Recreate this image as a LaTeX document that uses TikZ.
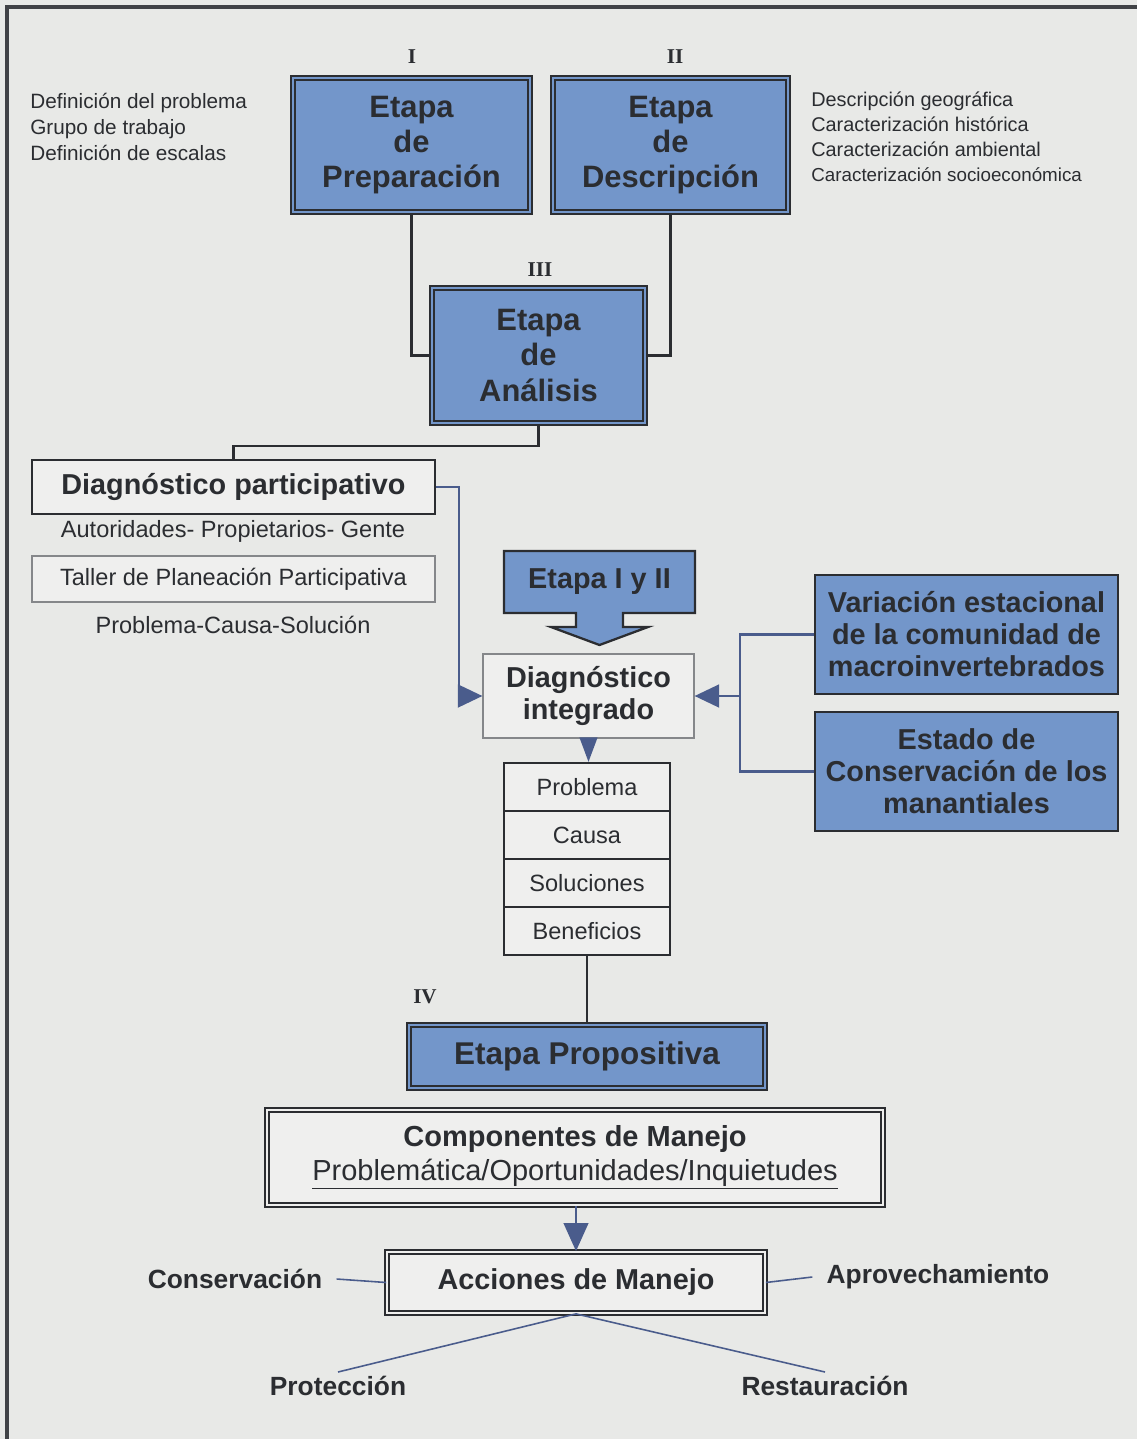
\documentclass[tikz,border=0pt]{standalone}
\usepackage{fontspec}
\setmainfont{Liberation Sans}
\newfontfamily\numeralfont{Liberation Serif}
\usetikzlibrary{arrows.meta}

\definecolor{bgpaper}{HTML}{E8E9E7}
\definecolor{stageblue}{HTML}{7396CA}
\definecolor{inkdark}{HTML}{2B2D31}
\definecolor{linkblue}{HTML}{4A5C8C}
\definecolor{paleface}{HTML}{EFEFEE}
\definecolor{thingray}{HTML}{85878A}

\tikzset{
  every node/.style = {text = inkdark, inner sep = 0pt, align = center},
  stagebox/.style = {draw = inkdark, fill = stageblue, line width = 1.2pt,
      double = stageblue, double distance = 1.3pt,
      font = \bfseries\fontsize{17.6}{20}\selectfont},
  bluebox/.style = {draw = inkdark, fill = stageblue, line width = 1.4pt,
      font = \bfseries\fontsize{16.4}{18.2}\selectfont},
  plainbox/.style = {draw = inkdark, fill = paleface, line width = 1.2pt},
  thinbox/.style = {draw = thingray, fill = paleface, line width = 0.7pt},
  pairbox/.style = {draw = inkdark, fill = paleface, line width = 1pt,
      double = paleface, double distance = 1.3pt},
  stackcell/.style = {plainbox, minimum width = 3.32cm, minimum height = 0.96cm,
      font = \fontsize{13.4}{15}\selectfont},
  boldtext/.style = {font = \bfseries\fontsize{16.4}{18.2}\selectfont},
  midtext/.style = {font = \fontsize{13.4}{15}\selectfont},
  branchtext/.style = {font = \bfseries\fontsize{15}{17}\selectfont, inner xsep = 8pt, inner ysep = 2pt},
  numeral/.style = {font = \numeralfont\bfseries\fontsize{12}{14}\selectfont},
  link/.style = {draw = inkdark, line width = 1.5pt},
  bluelink/.style = {draw = linkblue, line width = 1.4pt},
  thinblue/.style = {draw = linkblue, line width = 0.9pt},
  tip/.style = {-{Triangle[length = 14pt, width = 13pt]}},
  frameline/.style = {draw = inkdark!90, line width = 1.8pt}
}

\begin{document}
\begin{tikzpicture}[x = 0.02cm, y = -0.02cm]
    \fill[bgpaper] (0,0) rectangle (1137,1439);
    \useasboundingbox (0,0) rectangle (1137,1439);
    \draw[frameline] (7,1439) -- (7,7) -- (1137,7);

    % etapas I, II y III
    \node[numeral] (numI) at (412,57) {I};
    \node[numeral] (numII) at (675,57) {II};
    \node[numeral] (numIII) at (540,270) {III};
    \node[stagebox, minimum width = 4.74cm, minimum height = 2.68cm] (prep) at (411.5,145) {Etapa\\de\\Preparación};
    \node[stagebox, minimum width = 4.70cm, minimum height = 2.68cm] (desc) at (670.5,145) {Etapa\\de\\Descripción};
    \node[stagebox, minimum width = 4.26cm, minimum height = 2.70cm] (anal) at (538.5,355.5) {Etapa\\de\\Análisis};
    \node[align = left, anchor = west, font = \fontsize{11.8}{14.8}\selectfont] (tareas) at (30,127)
        {Definición del problema\\Grupo de trabajo\\Definición de escalas};
    \node[align = left, anchor = west, font = \fontsize{11.3}{14.2}\selectfont] (rasgos) at (811,137)
        {Descripción geográfica\\Caracterización histórica\\Caracterización ambiental\\{\fontsize{10.7}{12.6}\selectfont Caracterización socioeconómica}};
    \draw[link] (prep.south) |- (anal.west);
    \draw[link] (desc.south) |- (anal.east);

    % diagnostico participativo
    \node[plainbox, minimum width = 8.06cm, minimum height = 1.08cm, boldtext] (dpart) at (233.5,487) {Diagnóstico participativo};
    \node[midtext] (actores) at (233,531) {Autoridades- Propietarios- Gente};
    \node[thinbox, minimum width = 8.06cm, minimum height = 0.92cm, midtext] (taller) at (233.5,579) {Taller de Planeación Participativa};
    \node[midtext] (pcs) at (233,625) {Problema-Causa-Solución};
    \draw[link] (anal.south) -- ++(0,22) -| (dpart.north);

    % diagnostico integrado
    \draw[draw = inkdark, line width = 1.3pt, fill = stageblue]
        (504,551) -- (695,551) -- (695,613) -- (623,613) -- (623,627) -- (648,627)
        -- (599.5,645) -- (551,627) -- (576,627) -- (576,613) -- (504,613) -- cycle;
    \node[boldtext] (etapas) at (599.5,582) {Etapa I y II};
    \node[thinbox, minimum width = 4.22cm, minimum height = 1.68cm, boldtext] (dint) at (588.5,696) {Diagnóstico\\integrado};
    \node[bluebox, minimum width = 6.06cm, minimum height = 2.38cm] (var) at (966.5,634.5)
        {Variación estacional\\de la comunidad de\\macroinvertebrados};
    \node[bluebox, minimum width = 6.06cm, minimum height = 2.38cm] (estado) at (966.5,771.5)
        {Estado de\\Conservación de los\\manantiales};
    \draw[bluelink, tip] (dpart.east) -- ++(23,0) |- (dint.west);
    \draw[bluelink] (var.west) -- ++(-74,0) coordinate (fork) |- (estado.west);
    \draw[bluelink, tip] (fork |- dint.east) -- (dint.east);

    \foreach \cellname/\celltext [count = \k from 0] in {probl/Problema, causa/Causa, soluc/Soluciones, benef/Beneficios}
        \node[stackcell] (\cellname) at (587,{787+48*\k}) {\celltext};
    \draw[bluelink, -{Triangle[length = 14pt, width = 10pt]}] (dint.south) -- (dint.south |- probl.north);

    % etapa IV
    \node[numeral] (numIV) at (425,997) {IV};
    \node[stagebox, minimum width = 7.12cm, minimum height = 1.26cm, font = \bfseries\fontsize{17.9}{20}\selectfont] (prop) at (587,1056.5) {Etapa Propositiva};
    \draw[link] (benef.south) -- (prop.north);
    \node[pairbox, minimum width = 12.32cm, minimum height = 1.9cm, font = \fontsize{16.5}{19.3}\selectfont] (comp) at (575,1157.5)
        {\textbf{Componentes de Manejo}\\\underline{Problemática/Oportunidades/Inquietudes}};
    \node[pairbox, minimum width = 7.56cm, minimum height = 1.22cm, boldtext] (acc) at (576,1282.5) {Acciones de Manejo};
    \draw[bluelink, -{Triangle[length = 16pt, width = 14pt]}] (acc.north |- comp.south) -- (acc.north);

    \node[branchtext] (cons) at (235,1279) {Conservación};
    \node[branchtext] (aprov) at (938,1277) {Aprovechamiento};
    \node[branchtext, anchor = north] (prot) at (338,1372) {Protección};
    \node[branchtext, anchor = north] (rest) at (825,1372) {Restauración};
    \draw[thinblue] (cons.east) -- (acc.west);
    \draw[thinblue] (acc.east) -- (aprov.west);
    \draw[thinblue] (acc.south) -- (prot.north);
    \draw[thinblue] (acc.south) -- (rest.north);
\end{tikzpicture}
\end{document}
